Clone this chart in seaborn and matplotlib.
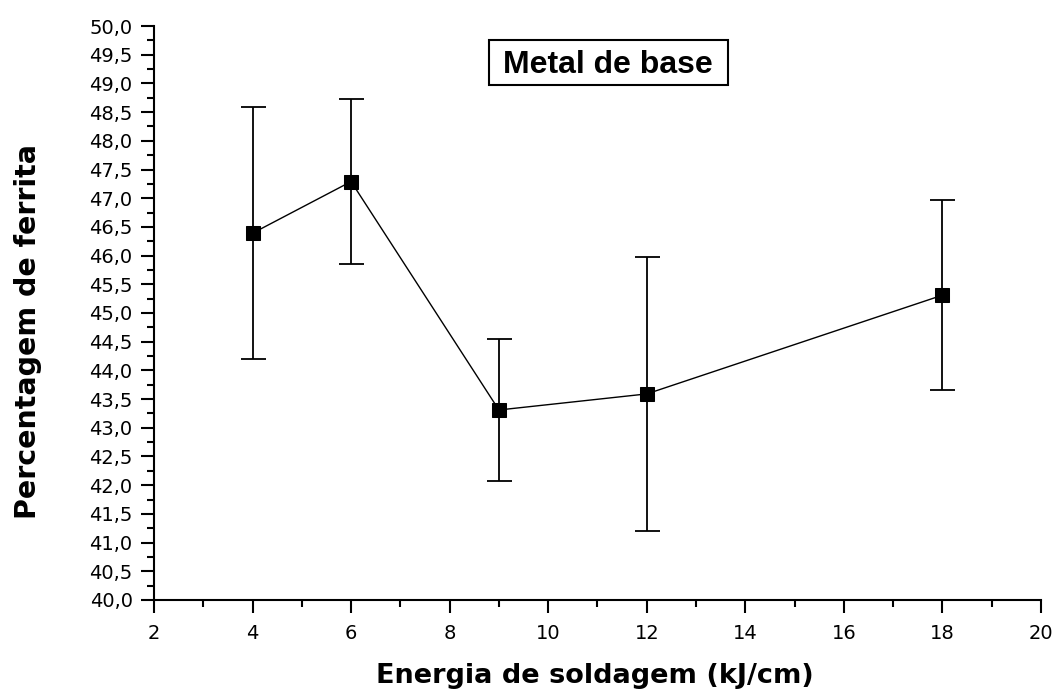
import matplotlib
matplotlib.use("Agg")
import matplotlib.pyplot as plt
from matplotlib.ticker import MultipleLocator, FuncFormatter
from matplotlib.patches import Rectangle
import seaborn as sns
import pandas as pd

energia = [4, 6, 9, 12, 18]
ferrita = [46.39, 47.29, 43.31, 43.59, 45.31]
erro = [2.20, 1.43, 1.23, 2.39, 1.66]

sns.set_theme(style="ticks")
plt.rcParams['font.family'] = ['DejaVu Sans']
plt.rcParams['text.color'] = 'black'
plt.rcParams['axes.labelcolor'] = 'black'

fig = plt.figure(figsize=(10.56, 6.96), dpi=100)
ax = fig.add_axes([0.1458, 0.138, 0.840, 0.8246])

df = pd.DataFrame({"x": energia, "y": ferrita})
ax.errorbar(energia, ferrita, yerr=erro, fmt="none", ecolor="black",
            elinewidth=1.3, capsize=9, capthick=1.3, zorder=2)
sns.lineplot(data=df, x="x", y="y", ax=ax, color="black", linewidth=1.0,
             marker="s", markersize=10, markerfacecolor="black",
             markeredgecolor="black", zorder=3)

ax.set_xlim(2, 20)
ax.set_ylim(40, 50)
ax.xaxis.set_major_locator(MultipleLocator(2))
ax.xaxis.set_minor_locator(MultipleLocator(1))
ax.yaxis.set_major_locator(MultipleLocator(0.5))
ax.yaxis.set_minor_locator(MultipleLocator(0.25))
ax.yaxis.set_major_formatter(FuncFormatter(lambda v, p: f"{v:.1f}".replace(".", ",")))

ax.tick_params(axis="both", which="major", length=9.4, width=1.5, labelsize=14,
               colors="black", labelcolor="black")
ax.tick_params(axis="both", which="minor", length=5, width=1.5, colors="black")
ax.tick_params(axis="x", which="major", pad=8)
ax.tick_params(axis="y", which="major", pad=6)

for s in ["top", "right"]:
    ax.spines[s].set_visible(False)
for s in ["left", "bottom"]:
    ax.spines[s].set_linewidth(1.5)
    ax.spines[s].set_color("black")

ax.set_xlabel("Energia de soldagem (kJ/cm)", fontsize=19.5, fontweight="bold")
ax.xaxis.label.set_verticalalignment("baseline")
ax.xaxis.set_label_coords(0.497, -0.1446)
ax.set_ylabel("Percentagem de ferrita", fontsize=20.5, fontweight="bold")
ax.yaxis.label.set_verticalalignment("center")
ax.yaxis.set_label_coords(-0.142, 0.467)

ax.add_patch(Rectangle((0.3777, 0.8972), 0.6471 - 0.3777, 0.9756 - 0.8972,
                       transform=ax.transAxes, facecolor="white", edgecolor="black",
                       linewidth=1.5, zorder=4))
ax.text(0.5118, 0.9176, "Metal de base", transform=ax.transAxes, ha="center",
        va="baseline", fontsize=23, fontweight="bold", zorder=5,
        family=['Liberation Sans', 'DejaVu Sans'])

fig.savefig("out.png", dpi=100)
